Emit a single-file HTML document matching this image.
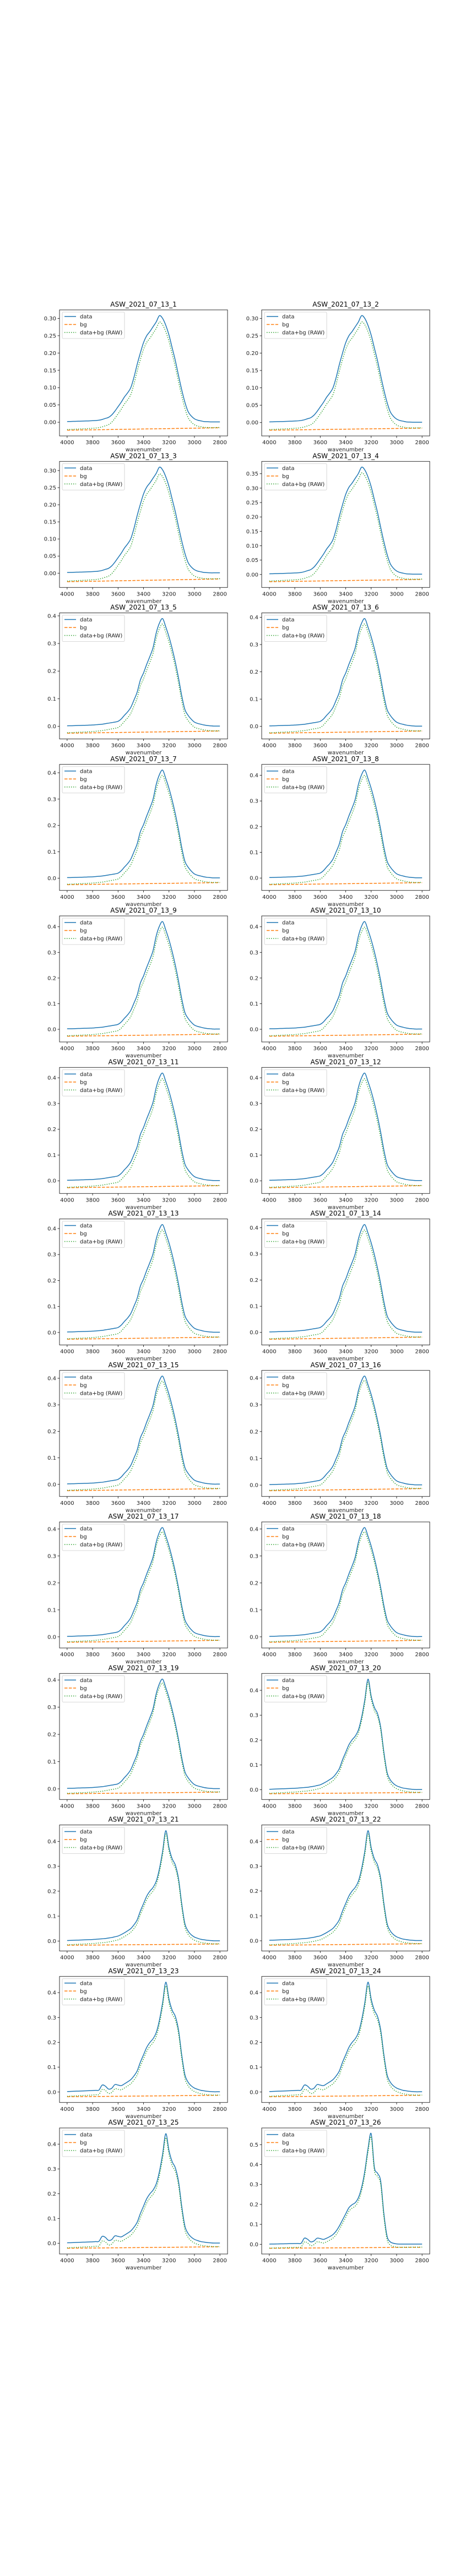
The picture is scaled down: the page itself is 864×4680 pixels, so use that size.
<!DOCTYPE html>
<html><head><meta charset="utf-8">
<style>
html,body{margin:0;padding:0;background:#fff;}
svg{display:block;font-family:"DejaVu Sans","Liberation Sans",sans-serif;}
</style></head>
<body>
<svg id="fig" width="864" height="4680" viewBox="0 0 864 4680" xmlns="http://www.w3.org/2000/svg"></svg>
<script>
// wavenumber grid: 4000 -> 2800, step 25 (49 points)
const tplA = [.002,.0022,.0025,.0028,.003,.0033,.0037,.004,.0045,.005,.006,.008,.011,.014,.021,.032,.045,.058,.073,.085,.1,.13,.167,.2,.23,.25,.262,.276,.29,.308,.3,.28,.252,.215,.178,.135,.094,.058,.031,.018,.01,.006,.004,.002,.0015,.001,.001,.001,.001];
const tplB = [.002,.0022,.0025,.003,.0033,.0037,.004,.0045,.005,.006,.007,.008,.01,.012,.014,.016,.019,.028,.042,.055,.072,.1,.13,.176,.203,.236,.266,.3,.356,.393,.41,.378,.341,.296,.244,.184,.117,.064,.042,.027,.016,.011,.008,.005,.003,.002,.001,.001,.001];
const tplC = [.002,.0025,.003,.0035,.004,.0045,.005,.0055,.006,.007,.008,.009,.01,.012,.014,.017,.02,.026,.033,.041,.05,.065,.085,.12,.15,.18,.2,.215,.24,.29,.36,.443,.375,.33,.305,.25,.15,.07,.04,.025,.016,.011,.007,.005,.003,.002,.001,.001,.001];
const tplD = [.002,.0025,.003,.0035,.004,.0045,.005,.0055,.006,.007,.008,.028,.024,.012,.015,.03,.028,.026,.033,.041,.05,.065,.085,.12,.15,.18,.2,.215,.24,.29,.36,.443,.375,.33,.305,.25,.15,.07,.04,.025,.016,.011,.007,.005,.003,.002,.001,.001,.001];
const tplE = [.001,.0013,.0016,.002,.0023,.0026,.003,.0033,.0036,.004,.005,.03,.025,.012,.016,.03,.028,.024,.03,.038,.048,.065,.09,.12,.15,.18,.195,.205,.23,.28,.36,.47,.545,.38,.35,.31,.15,.04,.012,.005,.002,.001,.001,.001,.001,.001,.001,.001,.001];
const templates = {A:tplA,B:tplB,C:tplC,D:tplD,E:tplE};

const panelTitles = ["ASW_2021_07_13_1","ASW_2021_07_13_2","ASW_2021_07_13_3","ASW_2021_07_13_4","ASW_2021_07_13_5","ASW_2021_07_13_6","ASW_2021_07_13_7","ASW_2021_07_13_8","ASW_2021_07_13_9","ASW_2021_07_13_10","ASW_2021_07_13_11","ASW_2021_07_13_12","ASW_2021_07_13_13","ASW_2021_07_13_14","ASW_2021_07_13_15","ASW_2021_07_13_16","ASW_2021_07_13_17","ASW_2021_07_13_18","ASW_2021_07_13_19","ASW_2021_07_13_20","ASW_2021_07_13_21","ASW_2021_07_13_22","ASW_2021_07_13_23","ASW_2021_07_13_24","ASW_2021_07_13_25","ASW_2021_07_13_26"];
const panelShape = ["A","A","A","A","B","B","B","B","B","B","B","B","B","B","B","B","B","B","B","C","C","C","D","D","D","E"];
const panelPeak = [.308,.308,.31,.373,.39,.395,.41,.42,.42,.42,.418,.418,.415,.412,.408,.407,.405,.405,.403,.445,.443,.443,.442,.442,.442,.555];
const bgStart = [-.023,-.022,-.025,-.025,-.025,-.025,-.025,-.026,-.027,-.027,-.027,-.027,-.026,-.026,-.024,-.021,-.02,-.02,-.018,-.016,-.017,-.018,-.019,-.019,-.02,-.02];
const bgEnd = [-.016,-.016,-.017,-.017,-.017,-.017,-.017,-.018,-.019,-.019,-.019,-.019,-.018,-.018,-.016,-.013,-.013,-.013,-.012,-.011,-.012,-.012,-.013,-.013,-.014,-.015];
const tickStep = [.05,.05,.05,.05,.1,.1,.1,.1,.1,.1,.1,.1,.1,.1,.1,.1,.1,.1,.1,.1,.1,.1,.1,.1,.1,.1];
const xTicks = [4000,3800,3600,3400,3200,3000,2800];

const NS="http://www.w3.org/2000/svg";
const fig=document.getElementById('fig');
function el(tag,attrs,parent){const e=document.createElementNS(NS,tag);for(const k in attrs)e.setAttribute(k,attrs[k]);(parent||fig).appendChild(e);return e;}
function smooth(pts){
  let d="M"+pts[0][0].toFixed(2)+","+pts[0][1].toFixed(2);
  for(let i=0;i<pts.length-1;i++){
    const p0=pts[Math.max(0,i-1)],p1=pts[i],p2=pts[i+1],p3=pts[Math.min(pts.length-1,i+2)];
    const c1=[p1[0]+(p2[0]-p0[0])/6,p1[1]+(p2[1]-p0[1])/6];
    const c2=[p2[0]-(p3[0]-p1[0])/6,p2[1]-(p3[1]-p1[1])/6];
    d+="C"+c1[0].toFixed(2)+","+c1[1].toFixed(2)+" "+c2[0].toFixed(2)+","+c2[1].toFixed(2)+" "+p2[0].toFixed(2)+","+p2[1].toFixed(2);
  }
  return d;
}
const colX=[108,475], axW=305, axH=229, top0=563, pitch=275.25;
panelTitles.forEach((title,p)=>{
  const L=colX[p%2], T=top0+Math.floor(p/2)*pitch, B=T+axH, R=L+axW;
  const tpl=templates[panelShape[p]];
  const tmax=Math.max(...tpl), s=panelPeak[p]/tmax, n=tpl.length;
  const wn=tpl.map((_,i)=>4000-i*(1200/(n-1)));
  const data=tpl.map(v=>v*s);
  const bg=wn.map(w=>bgStart[p]+(bgEnd[p]-bgStart[p])*(4000-w)/1200);
  const raw=data.map((v,i)=>v+bg[i]);
  const lo=Math.min(...bg,...raw,...data), hi=Math.max(...data,...raw);
  const ymin=lo-0.05*(hi-lo), ymax=hi+0.05*(hi-lo);
  const xs=w=>L+(4060-w)/1320*axW;
  const ys=v=>B-(v-ymin)/(ymax-ymin)*axH;
  const g=el('g',{});
  
  
  const t=el('text',{x:(L+R)/2,y:T-6,'text-anchor':'middle','font-size':12,fill:'#000'},g);
  t.textContent=title;
  
  
  // y ticks
  const st=tickStep[p], dec=st<0.1?2:1;
  for(let v=Math.ceil(ymin/st-1e-9)*st; v<=ymax+1e-9; v+=st){
    const y=ys(v);
    el('line',{x1:L-3.5,x2:L,y1:y,y2:y,stroke:'#000','stroke-width':0.8},g);
    const tl=el('text',{x:L-6,y:y+3.5,'text-anchor':'end','font-size':10,fill:'#222'},g);
    tl.textContent=(Math.abs(v)<1e-9?0:v).toFixed(dec);
    
    
  }
  xTicks.forEach(w=>{
    const x=xs(w);
    el('line',{x1:x,x2:x,y1:B,y2:B+3.5,stroke:'#000','stroke-width':0.8},g);
    const tl=el('text',{x:x,y:B+15,'text-anchor':'middle','font-size':10,fill:'#222'},g);
    tl.textContent=w;
    
    
  });
  const xl=el('text',{x:(L+R)/2,y:B+28,'text-anchor':'middle','font-size':10,fill:'#222'},g);
  xl.textContent='wavenumber';
  
  
  // series
  const pd=el('path',{d:smooth(data.map((v,i)=>[xs(wn[i]),ys(v)])),fill:'none',stroke:'#1f77b4','stroke-width':1.5},g);
  
  
  const pb=el('path',{d:smooth(bg.map((v,i)=>[xs(wn[i]),ys(v)])),fill:'none',stroke:'#ff7f0e','stroke-width':1.5,'stroke-dasharray':'5.5,2.4'},g);
  
  
  const pr=el('path',{d:smooth(raw.map((v,i)=>[xs(wn[i]),ys(v)])),fill:'none',stroke:'#2ca02c','stroke-width':1.5,'stroke-dasharray':'1.5,2.5'},g);
  
  
  const fr=el('rect',{x:L,y:T,width:axW,height:axH,fill:'none',stroke:'#000','stroke-width':0.8},g);
  
  
  // legend
  const lg=el('g',{},g);
  
  
  el('rect',{x:L+5,y:T+4,width:113,height:48,rx:2,fill:'#fff','fill-opacity':0.8,stroke:'#ccc','stroke-width':0.8},lg);
  const items=[['data','#1f77b4','none'],['bg','#ff7f0e','5.5,2.4'],['data+bg (RAW)','#2ca02c','1.5,2.5']];
  items.forEach((it,k)=>{
    const y=T+12+k*14.5;
    el('line',{x1:L+9,x2:L+30,y1:y,y2:y,stroke:it[1],'stroke-width':1.5,'stroke-dasharray':it[2]},lg);
    const lt=el('text',{x:L+37,y:y+3.5,'font-size':10,fill:'#222'},lg);
    lt.textContent=it[0];
    
    
  });
});
</script>
</body></html>
